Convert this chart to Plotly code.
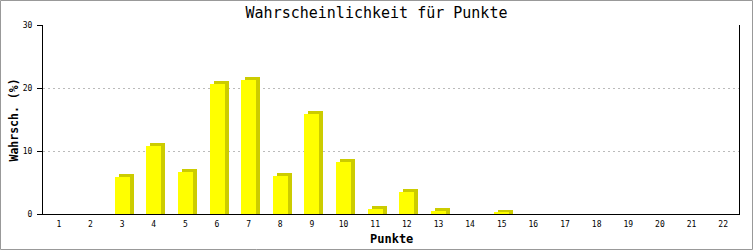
import plotly.graph_objects as go

# Data
punkte = list(range(1, 23))
wahrsch = [0, 0, 5.9, 10.8, 6.6, 20.7, 21.2, 6.1, 15.8, 8.3, 0.8, 3.5, 0.5, 0, 0.2,
           0, 0, 0, 0, 0, 0, 0]
tick_labels = [str(p) for p in punkte]
y_ticks = [0, 10, 20, 30]

W, H = 753, 250
ML, MR, MT, MB = 43, 14, 25, 36
PW, PH = W - ML - MR, H - MT - MB

px_per_unit_x = PW / 22.0
px_per_unit_y = PH / 30.0
dx = 4 / px_per_unit_x       # 3D depth offset in x (data units)
dy = 3 / px_per_unit_y       # 3D depth offset in y (data units)
bar_w = 15 / px_per_unit_x

shadow_y = [v + dy if v > 0 else None for v in wahrsch]
front_y = [v if v > 0 else None for v in wahrsch]

fig = go.Figure()
fig.add_trace(go.Bar(x=punkte, y=shadow_y, width=bar_w, offset=-bar_w / 2 + dx,
                     marker=dict(color="#CCCC00", line=dict(width=0)),
                     hoverinfo="skip", showlegend=False))
fig.add_trace(go.Bar(x=punkte, y=front_y, width=bar_w, offset=-bar_w / 2,
                     marker=dict(color="#FFFF00", line=dict(width=0)),
                     showlegend=False))

mono = "DejaVu Sans Mono"

def xp(px):
    return (px - ML) / PW

def yp(py):
    return (H - MB - py) / PH

fig.update_layout(
    width=W, height=H,
    margin=dict(l=ML, r=MR, t=MT, b=MB),
    paper_bgcolor="white", plot_bgcolor="white",
    barmode="overlay", bargap=0,
    title=dict(text="Wahrscheinlichkeit für Punkte", x=0.5, xanchor="center",
               y=1 - 13 / H, yanchor="middle", yref="container",
               font=dict(family=mono, size=15, color="black")),
    xaxis=dict(range=[0.5, 22.5], tickvals=punkte, ticktext=tick_labels,
               showgrid=False, zeroline=False, showline=True, linecolor="black",
               linewidth=1, ticks="", ticklabelstandoff=2,
               tickfont=dict(family=mono, size=8, color="black")),
    yaxis=dict(range=[0, 30], tickvals=y_ticks, showgrid=True, gridcolor="#BBBBBB",
               griddash="2px,3px", gridwidth=1, zeroline=False, showline=True,
               mirror=True, linecolor="black", linewidth=1, ticks="outside",
               ticklen=5, tickcolor="black", tickwidth=1, ticklabelstandoff=3,
               tickfont=dict(family=mono, size=8, color="black")),
    annotations=[
        dict(text="<b>Punkte</b>", xref="paper", yref="paper", x=0.5, y=yp(239),
             xanchor="center", yanchor="middle", showarrow=False,
             font=dict(family=mono, size=12, color="black")),
        dict(text="<b>Wahrsch. (%)</b>", xref="paper", yref="paper", x=xp(13),
             y=0.5, xanchor="center", yanchor="middle", textangle=-90,
             showarrow=False, font=dict(family=mono, size=11.5, color="black")),
    ],
    shapes=[
        dict(type="rect", xref="paper", yref="paper", x0=xp(0.5), x1=xp(752.5),
             y0=yp(249.5), y1=yp(0.5), line=dict(color="#999999", width=1),
             layer="above"),
    ],
)

fig.write_html("out.html")
